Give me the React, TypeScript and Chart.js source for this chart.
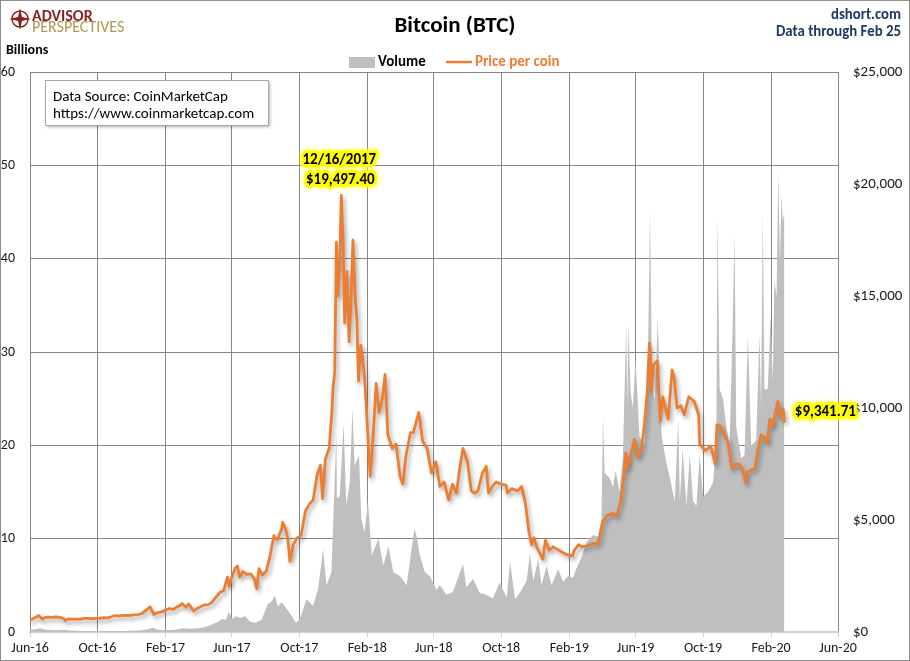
import React, { useEffect, useRef } from "react";
import { Chart, registerables } from "chart.js";

Chart.register(...registerables);

const FONT = 'Carlito, Lato, "Noto Sans", sans-serif';

// ---------- DATA ----------
const xTickDates = [
  "2016-06-01", "2016-10-01", "2017-02-01", "2017-06-01", "2017-10-01", "2018-02-01",
  "2018-06-01", "2018-10-01", "2019-02-01", "2019-06-01", "2019-10-01", "2020-02-01", "2020-06-01",
];
const xTickLabels = [
  "Jun-16", "Oct-16", "Feb-17", "Jun-17", "Oct-17", "Feb-18",
  "Jun-18", "Oct-18", "Feb-19", "Jun-19", "Oct-19", "Feb-20", "Jun-20",
];

const priceDates = [
  "2016-06-01", "2016-06-06", "2016-06-12", "2016-06-17", "2016-06-23", "2016-06-28", "2016-07-04", "2016-07-11",
  "2016-07-18", "2016-07-25", "2016-08-01", "2016-08-03", "2016-08-10", "2016-08-17", "2016-08-24", "2016-08-31",
  "2016-09-07", "2016-09-14", "2016-09-21", "2016-09-28", "2016-10-05", "2016-10-12", "2016-10-19", "2016-10-26",
  "2016-11-02", "2016-11-09", "2016-11-16", "2016-11-23", "2016-11-30", "2016-12-07", "2016-12-14", "2016-12-21",
  "2016-12-28", "2017-01-04", "2017-01-11", "2017-01-18", "2017-01-25", "2017-02-01", "2017-02-08", "2017-02-15",
  "2017-02-22", "2017-03-01", "2017-03-03", "2017-03-10", "2017-03-15", "2017-03-24", "2017-03-29", "2017-04-05",
  "2017-04-12", "2017-04-19", "2017-04-26", "2017-05-03", "2017-05-10", "2017-05-17", "2017-05-24", "2017-05-27",
  "2017-06-01", "2017-06-07", "2017-06-11", "2017-06-15", "2017-06-21", "2017-06-28", "2017-07-05", "2017-07-12",
  "2017-07-16", "2017-07-20", "2017-07-26", "2017-08-02", "2017-08-09", "2017-08-16", "2017-08-19", "2017-08-23",
  "2017-08-30", "2017-09-01", "2017-09-06", "2017-09-10", "2017-09-14", "2017-09-20", "2017-09-27", "2017-10-04",
  "2017-10-12", "2017-10-19", "2017-10-26", "2017-11-02", "2017-11-08", "2017-11-12", "2017-11-17", "2017-11-24",
  "2017-11-29", "2017-12-01", "2017-12-04", "2017-12-07", "2017-12-10", "2017-12-13", "2017-12-16", "2017-12-19",
  "2017-12-22", "2017-12-26", "2017-12-30", "2018-01-03", "2018-01-06", "2018-01-10", "2018-01-13", "2018-01-16",
  "2018-01-20", "2018-01-27", "2018-02-01", "2018-02-06", "2018-02-10", "2018-02-17", "2018-02-22", "2018-02-28",
  "2018-03-05", "2018-03-10", "2018-03-18", "2018-03-25", "2018-04-01", "2018-04-06", "2018-04-12", "2018-04-20",
  "2018-04-25", "2018-05-05", "2018-05-12", "2018-05-20", "2018-05-28", "2018-06-05", "2018-06-12", "2018-06-20",
  "2018-06-28", "2018-07-05", "2018-07-12", "2018-07-18", "2018-07-24", "2018-08-01", "2018-08-08", "2018-08-14",
  "2018-08-20", "2018-08-28", "2018-09-04", "2018-09-08", "2018-09-15", "2018-09-22", "2018-10-01", "2018-10-10",
  "2018-10-12", "2018-10-20", "2018-10-31", "2018-11-07", "2018-11-14", "2018-11-20", "2018-11-25", "2018-11-29",
  "2018-12-05", "2018-12-15", "2018-12-20", "2018-12-27", "2019-01-03", "2019-01-10", "2019-01-20", "2019-01-28",
  "2019-02-07", "2019-02-10", "2019-02-18", "2019-02-24", "2019-03-05", "2019-03-15", "2019-03-25", "2019-04-02",
  "2019-04-10", "2019-04-20", "2019-04-28", "2019-05-05", "2019-05-11", "2019-05-14", "2019-05-17", "2019-05-23",
  "2019-05-30", "2019-06-05", "2019-06-12", "2019-06-17", "2019-06-22", "2019-06-26", "2019-06-30", "2019-07-03",
  "2019-07-10", "2019-07-16", "2019-07-20", "2019-07-30", "2019-08-06", "2019-08-10", "2019-08-15", "2019-08-22",
  "2019-08-28", "2019-09-05", "2019-09-15", "2019-09-23", "2019-09-25", "2019-10-05", "2019-10-15", "2019-10-23",
  "2019-10-26", "2019-11-01", "2019-11-08", "2019-11-15", "2019-11-22", "2019-11-28", "2019-12-05", "2019-12-12",
  "2019-12-17", "2019-12-20", "2019-12-27", "2020-01-03", "2020-01-08", "2020-01-14", "2020-01-19", "2020-01-25",
  "2020-01-30", "2020-02-04", "2020-02-10", "2020-02-13", "2020-02-17", "2020-02-20", "2020-02-23", "2020-02-25",
];
const priceValues = [
  536, 585, 670, 735, 580, 645, 670, 650,
  675, 655, 605, 515, 590, 575, 580, 575,
  610, 608, 597, 605, 612, 637, 630, 680,
  735, 720, 745, 740, 745, 770, 780, 830,
  975, 1130, 780, 870, 895, 985, 1050, 1010,
  1125, 1220, 1270, 1110, 1250, 935, 1040, 1130,
  1210, 1220, 1320, 1550, 1760, 1850, 2450, 2050,
  2450, 2850, 2950, 2450, 2700, 2570, 2600, 2350,
  1930, 2830, 2550, 2700, 3400, 4300, 4150, 4150,
  4600, 4900, 4600, 4200, 3150, 3900, 4200, 4300,
  5400, 5700, 5900, 7000, 7450, 5950, 7700, 8200,
  9900, 10900, 11600, 17400, 15000, 16400, 19497.4, 17500,
  13800, 16100, 12950, 15200, 17500, 14900, 14000, 11200,
  12800, 11400, 9200, 6950, 8200, 11100, 9800, 10400,
  11500, 8800, 8200, 8400, 6950, 6600, 7900, 8900,
  8900, 9800, 8500, 8200, 7100, 7600, 6500, 6700,
  5900, 6600, 6200, 7300, 8200, 7600, 6300, 6200,
  6300, 7100, 7400, 6200, 6500, 6700, 6600, 6550,
  6200, 6400, 6300, 6500, 5700, 4500, 3900, 4200,
  3750, 3250, 4100, 3650, 3800, 3700, 3550, 3450,
  3400, 3650, 3900, 3800, 3850, 3950, 3950, 4900,
  5200, 5300, 5200, 5800, 7000, 8000, 7300, 7900,
  8600, 7800, 8200, 9300, 10700, 12900, 10800, 11900,
  12100, 9400, 10500, 9500, 11700, 11300, 10000, 10100,
  9700, 10500, 10300, 9700, 8400, 8100, 8300, 7500,
  9250, 9200, 8800, 8500, 7300, 7500, 7500, 7200,
  6650, 7150, 7250, 7300, 8100, 8800, 8700, 8450,
  9500, 9200, 9900, 10300, 9700, 9600, 9950, 9341.71,
];

const volumeDates = [
  "2016-06-01", "2016-06-12", "2016-06-19", "2016-06-30", "2016-07-16", "2016-08-03", "2016-08-12", "2016-08-30",
  "2016-09-26", "2016-10-24", "2016-11-20", "2016-12-17", "2016-12-31", "2017-01-09", "2017-01-18", "2017-01-31",
  "2017-02-18", "2017-03-03", "2017-03-17", "2017-04-01", "2017-04-13", "2017-04-26", "2017-05-07", "2017-05-14",
  "2017-05-21", "2017-05-27", "2017-06-01", "2017-06-08", "2017-06-16", "2017-06-25", "2017-07-04", "2017-07-14",
  "2017-07-25", "2017-08-05", "2017-08-12", "2017-08-18", "2017-08-23", "2017-08-30", "2017-09-07", "2017-09-14",
  "2017-09-25", "2017-10-02", "2017-10-14", "2017-10-26", "2017-11-04", "2017-11-13", "2017-11-19", "2017-11-28",
  "2017-12-01", "2017-12-07", "2017-12-08", "2017-12-13", "2017-12-20", "2017-12-25", "2017-12-31", "2018-01-05",
  "2018-01-09", "2018-01-17", "2018-01-21", "2018-01-27", "2018-02-02", "2018-02-09", "2018-02-21", "2018-03-02",
  "2018-03-11", "2018-03-20", "2018-04-01", "2018-04-13", "2018-04-27", "2018-05-01", "2018-05-07", "2018-05-16",
  "2018-05-25", "2018-06-06", "2018-06-12", "2018-06-24", "2018-07-06", "2018-07-24", "2018-07-30", "2018-08-11",
  "2018-08-23", "2018-09-04", "2018-09-16", "2018-09-28", "2018-10-11", "2018-10-17", "2018-10-26", "2018-11-04",
  "2018-11-16", "2018-11-22", "2018-11-28", "2018-12-07", "2018-12-13", "2018-12-22", "2018-12-31", "2019-01-12",
  "2019-01-21", "2019-01-30", "2019-02-08", "2019-02-14", "2019-02-23", "2019-03-04", "2019-03-16", "2019-03-25",
  "2019-03-31", "2019-04-03", "2019-04-06", "2019-04-15", "2019-04-21", "2019-04-26", "2019-05-03", "2019-05-09",
  "2019-05-15", "2019-05-17", "2019-05-19", "2019-05-23", "2019-05-27", "2019-06-01", "2019-06-08", "2019-06-17",
  "2019-06-23", "2019-06-27", "2019-07-01", "2019-07-06", "2019-07-11", "2019-07-18", "2019-07-27", "2019-08-02",
  "2019-08-11", "2019-08-17", "2019-08-20", "2019-08-25", "2019-09-01", "2019-09-07", "2019-09-13", "2019-09-19",
  "2019-09-25", "2019-10-01", "2019-10-10", "2019-10-19", "2019-10-25", "2019-10-27", "2019-10-31", "2019-11-06",
  "2019-11-12", "2019-11-18", "2019-11-24", "2019-11-27", "2019-11-30", "2019-12-09", "2019-12-15", "2019-12-21",
  "2019-12-27", "2020-01-05", "2020-01-11", "2020-01-14", "2020-01-17", "2020-01-20", "2020-01-26", "2020-01-31",
  "2020-02-04", "2020-02-07", "2020-02-11", "2020-02-14", "2020-02-17", "2020-02-20", "2020-02-22", "2020-02-25",
];
const volumeValues = [
  0.25, 0.3, 0.4, 0.25, 0.2, 0.25, 0.15, 0.12,
  0.1, 0.12, 0.12, 0.15, 0.3, 0.45, 0.25, 0.2,
  0.25, 0.4, 0.35, 0.4, 0.5, 0.8, 1.1, 1.4,
  1.3, 2.2, 1.4, 1.7, 1.5, 1.7, 1.1, 1.0,
  1.3, 3.0, 3.3, 3.9, 2.7, 3.2, 2.6, 2.0,
  1.0, 1.4, 3.5, 2.8, 4.6, 8.9, 5.0, 6.4,
  11.4, 21.3, 14.3, 14.6, 22.3, 13.5, 16, 23.9,
  17.8, 18.9, 12.1, 10.7, 14.1, 8.2, 10, 7.1,
  9.2, 6.4, 6.0, 5.0, 11, 10.3, 8.2, 6.4,
  6.0, 4.5, 5.0, 4.0, 4.3, 7.3, 4.8, 5.7,
  4.2, 4.0, 3.6, 5.3, 3.7, 7.5, 3.5, 4.2,
  5.5, 8.4, 5.5, 7.8, 5.0, 7.1, 5.0, 6.7,
  5.4, 6.0, 5.8, 6.8, 8.0, 9.6, 10.4, 10.2,
  10.7, 23, 17, 16.5, 15.5, 17.3, 15, 18.6,
  33, 24, 33, 25.7, 24, 29.3, 21, 20,
  27.5, 45.2, 26, 25, 33.6, 21, 18, 16.5,
  14, 22.8, 14, 19.6, 13.5, 19, 14, 13.5,
  19, 14.5, 15, 16, 20, 44.5, 26, 25,
  22, 20, 34, 42.7, 22, 18.6, 19, 31.8,
  20, 20.5, 31.8, 24, 45, 26, 26, 34,
  27, 37.5, 36, 49.5, 40, 47, 44, 45,
];

const peakDate = "2017-12-16";
const peakLabel = "12/16/2017";
const peakPriceLabel = "$19,497.40";
const lastPriceLabel = "$9,341.71";

// ---------- helpers ----------
const START = Date.UTC(2016, 5, 1);
const dayIndex = (s: string) => {
  const [y, m, d] = s.split("-").map(Number);
  return Math.round((Date.UTC(y, m - 1, d) - START) / 86400000);
};
const xTickDays = xTickDates.map(dayIndex);

function glowText(ctx: CanvasRenderingContext2D, text: string, x: number, y: number) {
  ctx.save();
  ctx.font = `bold 15px ${FONT}`;
  ctx.textAlign = "center";
  ctx.textBaseline = "middle";
  ctx.lineJoin = "round";
  ctx.shadowColor = "#FFFF00";
  ctx.shadowBlur = 4;
  ctx.strokeStyle = "#FFFF00";
  ctx.lineWidth = 6;
  ctx.strokeText(text, x, y);
  ctx.shadowBlur = 0;
  ctx.fillStyle = "#000";
  ctx.fillText(text, x, y);
  ctx.restore();
}

const decorPlugin = {
  id: "decor",
  beforeDatasetDraw(chart: any, args: any) {
    if (args.index === 1) {
      const c = chart.ctx;
      c.save();
      c.shadowColor = "rgba(0,0,0,0.35)";
      c.shadowBlur = 4;
      c.shadowOffsetX = 2;
      c.shadowOffsetY = 3;
    }
  },
  afterDatasetDraw(chart: any, args: any) {
    if (args.index === 1) chart.ctx.restore();
  },
  afterDraw(chart: any) {
    const ctx: CanvasRenderingContext2D = chart.ctx;
    const W = chart.width;
    const H = chart.height;
    ctx.save();
    // outer border
    ctx.strokeStyle = "#8c8c8c";
    ctx.lineWidth = 1;
    ctx.strokeRect(0.5, 0.5, W - 1, H - 1);

    // title
    ctx.fillStyle = "#000";
    ctx.font = `bold 23px ${FONT}`;
    ctx.textAlign = "center";
    ctx.textBaseline = "middle";
    ctx.fillText("Bitcoin (BTC)", 455, 26, 124);

    // logo
    ctx.beginPath();
    ctx.arc(20, 19, 8, 0, Math.PI * 2);
    ctx.strokeStyle = "#8B1E1E";
    ctx.lineWidth = 1.5;
    ctx.stroke();
    ctx.beginPath();
    ctx.moveTo(20, 8); ctx.lineTo(22, 17); ctx.lineTo(31, 19); ctx.lineTo(22, 21);
    ctx.lineTo(20, 30); ctx.lineTo(18, 21); ctx.lineTo(9, 19); ctx.lineTo(18, 17);
    ctx.closePath();
    ctx.fillStyle = "#8B1E1E";
    ctx.fill();
    ctx.textAlign = "left";
    ctx.textBaseline = "alphabetic";
    ctx.font = `bold 16px ${FONT}`;
    ctx.fillStyle = "#8B1E1E";
    ctx.fillText("ADVISOR", 32, 21, 64);
    ctx.font = `16px ${FONT}`;
    ctx.fillStyle = "#B39553";
    ctx.fillText("PERSPECTIVES", 32, 32, 96);

    // top right
    ctx.textAlign = "right";
    ctx.textBaseline = "middle";
    ctx.font = `bold 15px ${FONT}`;
    ctx.fillStyle = "#1F3864";
    ctx.fillText("dshort.com", 901, 15, 70);
    ctx.fillText("Data through Feb 25", 901, 32, 125);

    // Billions
    ctx.textAlign = "left";
    ctx.fillStyle = "#000";
    ctx.font = `bold 14px ${FONT}`;
    ctx.fillText("Billions", 6, 50, 46);

    // legend
    ctx.fillStyle = "#BFBFBF";
    ctx.fillRect(349, 57, 26, 11);
    ctx.fillStyle = "#000";
    ctx.font = `bold 15px ${FONT}`;
    ctx.fillText("Volume", 378, 62, 52);
    ctx.strokeStyle = "#ED7D31";
    ctx.lineWidth = 2.5;
    ctx.beginPath();
    ctx.moveTo(446, 62);
    ctx.lineTo(472, 62);
    ctx.stroke();
    ctx.fillStyle = "#ED7D31";
    ctx.fillText("Price per coin", 475, 62, 91);

    // data source box
    ctx.save();
    ctx.shadowColor = "rgba(0,0,0,0.3)";
    ctx.shadowBlur = 3;
    ctx.shadowOffsetX = 2;
    ctx.shadowOffsetY = 2;
    ctx.fillStyle = "#fff";
    ctx.fillRect(45, 80, 223, 45);
    ctx.restore();
    ctx.strokeStyle = "#a6a6a6";
    ctx.lineWidth = 1;
    ctx.strokeRect(45.5, 80.5, 223, 45);
    ctx.fillStyle = "#000";
    ctx.font = `15px ${FONT}`;
    ctx.fillText("Data Source: CoinMarketCap", 53, 97, 176);
    ctx.fillText("https://www.coinmarketcap.com", 53, 114, 203);

    // annotations
    const xs = chart.scales.x;
    const yp = chart.scales.y1;
    const pi = priceDates.indexOf(peakDate);
    const px = xs.getPixelForValue(dayIndex(peakDate));
    const py = yp.getPixelForValue(priceValues[pi]);
    glowText(ctx, peakLabel, px - 2, py - 35);
    glowText(ctx, peakPriceLabel, px - 1, py - 15);
    const li = priceDates.length - 1;
    const lx = xs.getPixelForValue(dayIndex(priceDates[li]));
    const ly = yp.getPixelForValue(priceValues[li]);
    glowText(ctx, lastPriceLabel, lx + 41, ly - 10);
    ctx.restore();
  },
};

export default function App() {
  const ref = useRef<HTMLCanvasElement | null>(null);
  useEffect(() => {
    if (!ref.current) return;
    document.body.style.margin = "0";
    const volumeData = volumeDates.map((d, i) => ({ x: dayIndex(d), y: volumeValues[i] }));
    const priceData = priceDates.map((d, i) => ({ x: dayIndex(d), y: priceValues[i] }));
    const chart = new Chart(ref.current, {
      type: "line",
      data: {
        datasets: [
          {
            label: "Volume",
            data: volumeData,
            yAxisID: "y",
            fill: "origin",
            backgroundColor: "#BFBFBF",
            borderWidth: 0,
            borderColor: "#BFBFBF",
            pointRadius: 0,
            tension: 0,
            order: 2,
          },
          {
            label: "Price per coin",
            data: priceData,
            yAxisID: "y1",
            fill: false,
            borderColor: "#ED7D31",
            borderWidth: 2.75,
            pointRadius: 0,
            tension: 0,
            borderJoinStyle: "round",
            order: 1,
          },
        ],
      },
      options: {
        responsive: false,
        animation: false,
        devicePixelRatio: 1,
        layout: { padding: { top: 72, left: 0, right: 0, bottom: 0 } },
        plugins: { legend: { display: false }, tooltip: { enabled: false }, title: { display: false } },
        scales: {
          x: {
            type: "linear",
            min: 0,
            max: xTickDays[xTickDays.length - 1],
            afterBuildTicks: (scale: any) => {
              scale.ticks = xTickDays.map((v) => ({ value: v }));
            },
            afterFit: (scale: any) => {
              scale.height = 29;
            },
            ticks: {
              autoSkip: false,
              maxRotation: 0,
              padding: 3,
              color: "#1a1a1a",
              font: { family: FONT, size: 14 },
              callback: (_v: any, i: number) => xTickLabels[i],
            },
            grid: { color: "#868686", lineWidth: 1, tickLength: 5, tickColor: "#d0d0d0" },
            border: { display: true, color: "#d0d0d0", width: 2 },
          },
          y: {
            position: "left",
            min: 0,
            max: 60,
            afterFit: (scale: any) => {
              scale.width = 30;
            },
            ticks: { stepSize: 10, padding: 15, color: "#1a1a1a", font: { family: FONT, size: 14 } },
            grid: {
              drawTicks: false,
              color: (c: any) => (c.tick && c.tick.value === 0 ? "rgba(0,0,0,0)" : "#868686"),
            },
            border: { display: false },
          },
          y1: {
            position: "right",
            min: 0,
            max: 25000,
            afterFit: (scale: any) => {
              scale.width = 72;
            },
            ticks: {
              stepSize: 5000,
              padding: 15,
              color: "#1a1a1a",
              font: { family: FONT, size: 15 },
              callback: (v: any) => "$" + Number(v).toLocaleString("en-US"),
            },
            grid: { display: false, drawTicks: false },
            border: { display: false },
          },
        },
      },
      plugins: [decorPlugin],
    });
    return () => chart.destroy();
  }, []);
  return (
    <div style={{ position: "absolute", left: 0, top: 0, width: 910, height: 661, background: "#fff" }}>
      <canvas ref={ref} width={910} height={661} style={{ display: "block" }} />
    </div>
  );
}
